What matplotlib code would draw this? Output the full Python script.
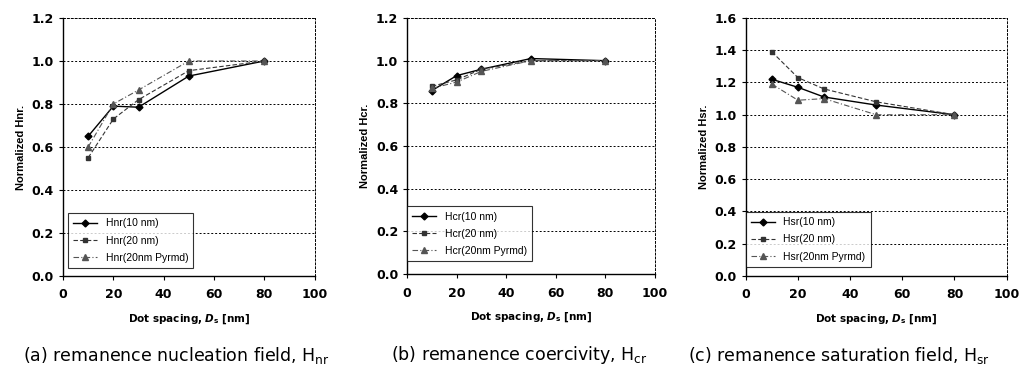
import matplotlib.pyplot as plt
from matplotlib.ticker import FormatStrFormatter

plt.rcParams['font.family'] = ['Liberation Sans', 'DejaVu Sans']
plt.rcParams['mathtext.fontset'] = 'custom'
plt.rcParams['mathtext.rm'] = 'DejaVu Sans'
plt.rcParams['mathtext.it'] = 'DejaVu Sans:italic:bold'

# dot spacing [nm]
spacing = [10, 20, 30, 50, 80]

# (a) nucleation field
hnr_10 = [0.65, 0.79, 0.785, 0.93, 1.0]
hnr_20 = [0.55, 0.73, 0.82, 0.955, 1.0]
hnr_pyr = [0.60, 0.80, 0.865, 1.0, 1.0]

# (b) coercivity
hcr_10 = [0.86, 0.93, 0.96, 1.01, 1.0]
hcr_20 = [0.88, 0.91, 0.96, 1.0, 1.0]
hcr_pyr = [0.87, 0.90, 0.95, 1.0, 1.0]

# (c) saturation field
hsr_10 = [1.22, 1.17, 1.11, 1.06, 1.0]
hsr_20 = [1.39, 1.23, 1.16, 1.08, 1.0]
hsr_pyr = [1.19, 1.09, 1.10, 1.0, 1.0]

panels = [
    ("Hnr", [hnr_10, hnr_20, hnr_pyr], 1.2, "(a) remanence nucleation field, $\\mathregular{H_{nr}}$"),
    ("Hcr", [hcr_10, hcr_20, hcr_pyr], 1.2, "(b) remanence coercivity, $\\mathregular{H_{cr}}$"),
    ("Hsr", [hsr_10, hsr_20, hsr_pyr], 1.6, "(c) remanence saturation field, $\\mathregular{H_{sr}}$"),
]
names = ["(10 nm)", "(20 nm)", "(20nm Pyrmd)"]

# axes boxes in figure fractions
boxes = [
    [0.0616, 0.248, 0.246, 0.703],
    [0.398, 0.253, 0.242, 0.698],
    [0.729, 0.248, 0.255, 0.703],
]
legend_anchor = [(0.02, 0.03), (0.0, 0.05), (0.0, 0.035)]
caption_x = [0.172, 0.508, 0.820]

styles = [
    dict(color='black', ls='-', marker='D', ms=3.5, lw=1.0),
    dict(color='#333333', ls=(0, (4, 2)), marker='s', ms=3.5, lw=0.8),
    dict(color='#555555', ls=(0, (5, 2, 1, 2)), marker='^', ms=4, lw=0.8),
]

fig = plt.figure(figsize=(10.23, 3.67), dpi=100)

for i, (key, series, ymax, caption) in enumerate(panels):
    ax = fig.add_axes(boxes[i])
    for vals, name, st in zip(series, names, styles):
        ax.plot(spacing, vals, label=key + name, **st)
    ax.set_xlim(0, 100)
    ax.set_ylim(0, ymax)
    ax.set_xticks(range(0, 101, 20))
    yt = [k * 0.2 for k in range(int(round(ymax / 0.2)) + 1)]
    ax.set_yticks(yt)
    ax.yaxis.set_major_formatter(FormatStrFormatter('%.1f'))
    ax.tick_params(length=3, width=0.8, direction='out')
    ax.tick_params(axis='x', pad=6)
    for lab in ax.get_xticklabels() + ax.get_yticklabels():
        lab.set_fontweight('bold')
        lab.set_family('DejaVu Sans')
        lab.set_fontsize(9)
    ax.yaxis.grid(True, color='black', ls=(0, (2, 2)), lw=0.7)
    for s in ['top', 'right']:
        ax.spines[s].set_linestyle((0, (2, 2)))
        ax.spines[s].set_linewidth(0.7)
    for s in ['left', 'bottom']:
        ax.spines[s].set_linewidth(1.0)
    ax.set_ylabel("Normalized " + key + ".", fontsize=8, fontweight='bold')
    ax.set_xlabel("Dot spacing, $D_{\\mathregular{s}}$ [nm]", fontsize=7.5,
                  fontweight='bold', family='DejaVu Sans', labelpad=8)
    leg = ax.legend(loc='lower left', bbox_to_anchor=legend_anchor[i], fontsize=7.5,
                    frameon=True, fancybox=False, edgecolor='black', borderpad=0.5,
                    labelspacing=0.7, handlelength=2.3, borderaxespad=0.0)
    leg.get_frame().set_linewidth(0.8)
    fig.text(caption_x[i], 0.032, caption, fontsize=12.5, family='DejaVu Sans',
             ha='center', va='center')

fig.savefig("out.png", dpi=100)
